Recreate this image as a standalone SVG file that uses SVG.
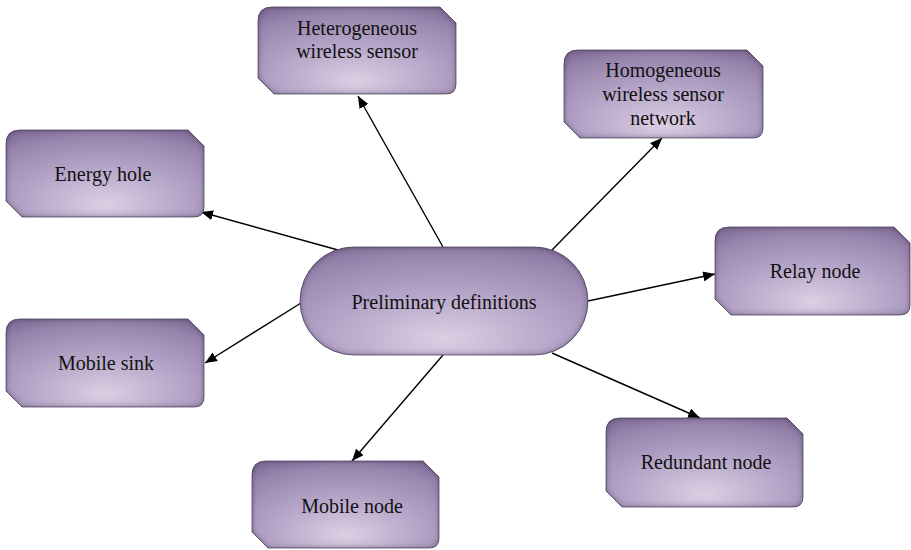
<svg xmlns="http://www.w3.org/2000/svg" width="911" height="550" viewBox="0 0 911 550">
  <defs>
    <radialGradient id="fillGrad" cx="0.5" cy="0.78" r="0.85" fx="0.5" fy="0.85">
      <stop offset="0" stop-color="#dccfe3"/>
      <stop offset="0.45" stop-color="#b6a6c9"/>
      <stop offset="0.85" stop-color="#9885ae"/>
      <stop offset="1" stop-color="#85729c"/>
    </radialGradient>
    <!-- soft dark bevel along the inside of each shape -->
    <filter id="bevel" x="-5%" y="-5%" width="110%" height="110%">
      <feGaussianBlur in="SourceAlpha" stdDeviation="3" result="blur"/>
      <feComposite in="SourceAlpha" in2="blur" operator="arithmetic" k2="1" k3="-1" result="edge"/>
      <feFlood flood-color="#35283f" flood-opacity="0.9"/>
      <feComposite in2="edge" operator="in" result="shade"/>
      <feMerge>
        <feMergeNode in="SourceGraphic"/>
        <feMergeNode in="shade"/>
      </feMerge>
    </filter>
    <marker id="arrow" viewBox="0 0 12 10" refX="12" refY="5" markerWidth="12" markerHeight="10" markerUnits="userSpaceOnUse" orient="auto">
      <path d="M0,0 L12,5 L0,10 Z" fill="#000"/>
    </marker>
  </defs>
  <style>
    .box { fill: url(#fillGrad); stroke: #5a4b6e; stroke-width: 0.8; filter: url(#bevel); }
    .label { font-size: 20px; fill: #111; text-anchor: middle; }
    .link { stroke: #000; stroke-width: 1.4; fill: none; marker-end: url(#arrow); }
  </style>

  <rect width="911" height="550" fill="#fff"/>

  <!-- connectors from the central node -->
  <g id="connectors">
    <line class="link" x1="443" y1="247" x2="358" y2="96"/>
    <line class="link" x1="552" y1="250" x2="662" y2="138"/>
    <line class="link" x1="338" y1="250" x2="201" y2="212"/>
    <line class="link" x1="588" y1="301" x2="715" y2="274"/>
    <line class="link" x1="301" y1="303" x2="205" y2="363"/>
    <line class="link" x1="552" y1="353" x2="700" y2="418"/>
    <line class="link" x1="443" y1="355" x2="352" y2="461"/>
  </g>

  <g font-family="'Liberation Serif', 'DejaVu Serif', 'Times New Roman', serif">
    <g id="preliminary">
      <rect class="box" x="300" y="247" width="288" height="108" rx="54" ry="54"/>
      <text class="label" x="444" y="309" font-size="20.5">Preliminary definitions</text>
    </g>

    <g id="heterogeneous">
      <path class="box" d="M272,7 H440 L456,23 V84 Q456,94 446,94 H274 L258,78 V21 Q258,7 272,7 Z"/>
      <text class="label" x="357" y="35">Heterogeneous</text>
      <text class="label" x="357" y="58">wireless sensor</text>
    </g>

    <g id="homogeneous">
      <path class="box" d="M578,50 H747 L763,66 V128 Q763,138 753,138 H580 L564,122 V64 Q564,50 578,50 Z"/>
      <text class="label" x="663" y="77">Homogeneous</text>
      <text class="label" x="663" y="101">wireless sensor</text>
      <text class="label" x="663" y="125">network</text>
    </g>

    <g id="energy-hole">
      <path class="box" d="M20,130 H188 L204,146 V207 Q204,217 194,217 H22 L6,201 V144 Q6,130 20,130 Z"/>
      <text class="label" x="103" y="181">Energy hole</text>
    </g>

    <g id="relay-node">
      <path class="box" d="M729,227 H894 L910,243 V305 Q910,315 900,315 H731 L715,299 V241 Q715,227 729,227 Z"/>
      <text class="label" x="815" y="278">Relay node</text>
    </g>

    <g id="mobile-sink">
      <path class="box" d="M20,319 H188 L204,335 V397 Q204,407 194,407 H22 L6,391 V333 Q6,319 20,319 Z"/>
      <text class="label" x="106" y="370">Mobile sink</text>
    </g>

    <g id="redundant-node">
      <path class="box" d="M620,418 H787 L803,434 V497 Q803,507 793,507 H622 L606,491 V432 Q606,418 620,418 Z"/>
      <text class="label" x="706" y="469">Redundant node</text>
    </g>

    <g id="mobile-node">
      <path class="box" d="M266,461 H423 L439,477 V538 Q439,548 429,548 H268 L252,532 V475 Q252,461 266,461 Z"/>
      <text class="label" x="352" y="513">Mobile node</text>
    </g>
  </g>
</svg>
